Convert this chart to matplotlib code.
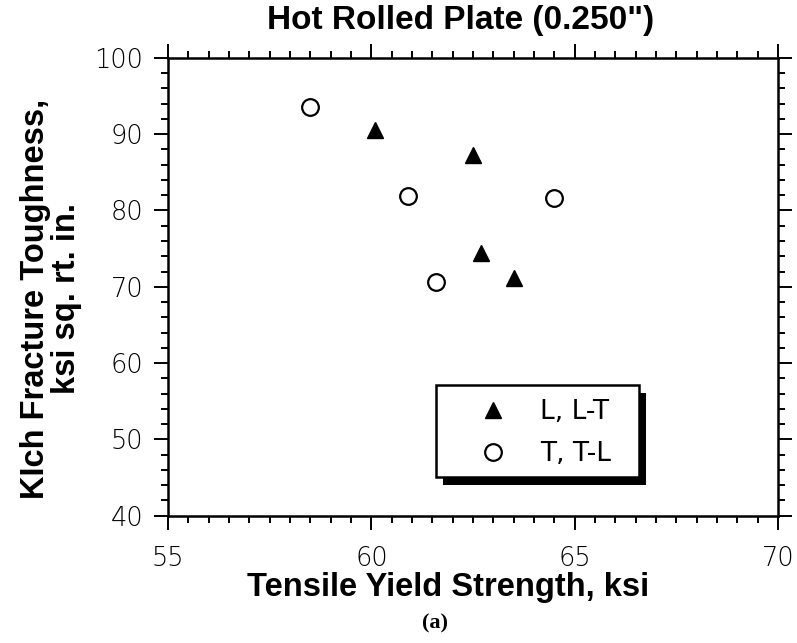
import numpy as np
import matplotlib
matplotlib.use('Agg')
import matplotlib.pyplot as plt
from matplotlib.patches import Rectangle
from matplotlib.ticker import MultipleLocator

# Data
lt_yield = [60.1, 62.5, 62.7, 63.5]
lt_kic = [90.5, 87.3, 74.4, 71.1]
tl_yield = [58.5, 60.9, 61.6, 64.5]
tl_kic = [93.5, 81.9, 70.6, 81.7]

series_labels = ['L, L-T', 'T, T-L']
title = 'Hot Rolled Plate (0.250")'
xlabel = 'Tensile Yield Strength, ksi'
ylabel = 'KIch Fracture Toughness,\nksi sq. rt. in.'

bold_font = 'Liberation Sans'
tick_font = 'DejaVu Sans'

fig = plt.figure(figsize=(7.97, 6.43), dpi=100)
ax = fig.add_axes([0.211, 0.198, 0.765, 0.712])

ax.plot(lt_yield, lt_kic, '^', color='black', markersize=11, label=series_labels[0], zorder=3)
ax.plot(tl_yield, tl_kic, 'o', markerfacecolor='white', markeredgecolor='black',
        markeredgewidth=1.6, markersize=12, label=series_labels[1], zorder=3)

ax.set_xlim(55, 70)
ax.set_ylim(40, 100)
ax.xaxis.set_major_locator(MultipleLocator(5))
ax.xaxis.set_minor_locator(MultipleLocator(0.5))
ax.yaxis.set_major_locator(MultipleLocator(10))
ax.yaxis.set_minor_locator(MultipleLocator(2))

ax.tick_params(which='both', direction='out', top=True, right=True, width=1.4, color='black')
ax.tick_params(which='major', length=10)
ax.tick_params(which='minor', length=5)
ax.tick_params(axis='x', which='major', pad=12, labelsize=18.5)
ax.tick_params(axis='y', which='major', pad=8, labelsize=18.5)
ax.tick_params(labeltop=False, labelright=False)
for lab in ax.get_xticklabels() + ax.get_yticklabels():
    lab.set_fontfamily(tick_font)
    lab.set_fontweight('light')

for sp in ax.spines.values():
    sp.set_linewidth(1.8)

fig.text(0.578, 0.968, title, ha='center', va='center', fontsize=24,
         fontweight='bold', family=bold_font)
fig.text(0.562, 0.086, xlabel, ha='center', va='center', fontsize=23.5,
         fontweight='bold', family=bold_font)
fig.text(0.064, 0.535, ylabel, ha='center', va='center', rotation=90, fontsize=23.5,
         fontweight='bold', family=bold_font, linespacing=1.0)
fig.text(0.546, 0.031, '(a)', ha='center', va='center', fontsize=16,
         fontweight='bold', family='Liberation Serif')

# legend box with a black drop shadow
box_x0, box_y0, box_w, box_h = 0.4386, 0.0845, 0.3344, 0.201
shadow = Rectangle((box_x0 + 0.0115, box_y0 - 0.0175), box_w, box_h,
                   transform=ax.transAxes, facecolor='black', edgecolor='none',
                   clip_on=False, zorder=4)
frame = Rectangle((box_x0, box_y0), box_w, box_h, transform=ax.transAxes,
                  facecolor='white', edgecolor='black', linewidth=1.8,
                  clip_on=False, zorder=4.5)
ax.add_patch(shadow)
ax.add_patch(frame)

leg = ax.legend(loc='center left', bbox_to_anchor=(0.5107, 0.1806), frameon=False,
                prop={'family': tick_font, 'size': 19},
                handletextpad=1.28, borderpad=0, labelspacing=0.6,
                borderaxespad=0, handlelength=1.0)
leg.set_zorder(5)

fig.savefig('out.png', dpi=100)
